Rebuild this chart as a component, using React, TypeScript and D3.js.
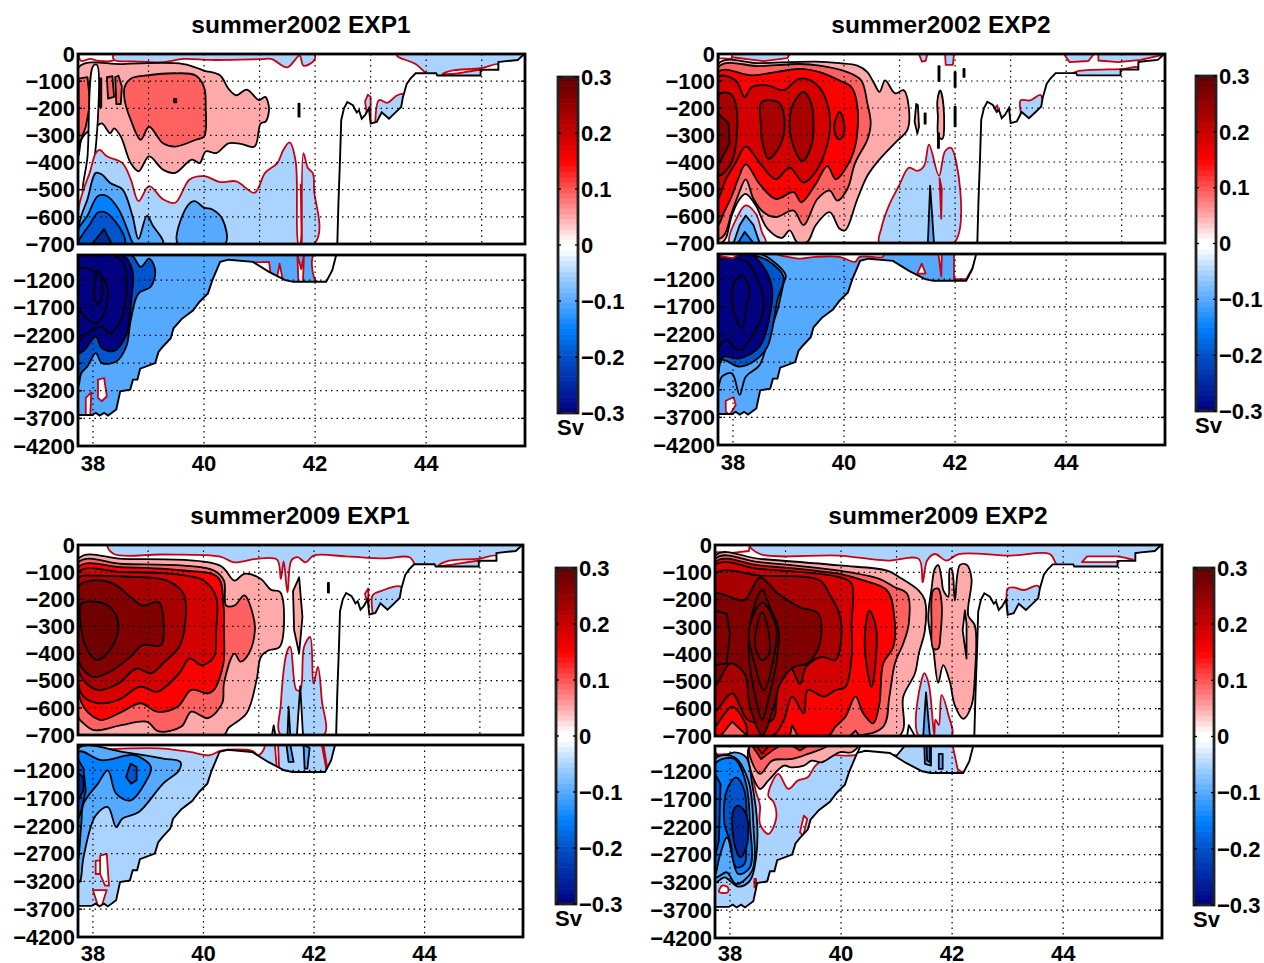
import React from "react";
import * as d3 from "d3";

type Pt = [number, number];
type Contour = [number, Pt[]];

const LAT_MIN = 37.73;
const LAT_MAX = 45.78;
const upperDepthTicks = [0, 100, 200, 300, 400, 500, 600, 700];
const lowerDepthTicks = [1200, 1700, 2200, 2700, 3200, 3700, 4200];
const latLabels = [38, 40, 42, 44];
const latGridUpper = [39, 40, 41, 42, 43, 44, 45];
const cbarTicks = [0.3, 0.2, 0.1, 0, -0.1, -0.2, -0.3];

// band floors (by magnitude) and their fills
const bandLevels = [-0.3, -0.25, -0.2, -0.15, -0.05, -0.01, 0, 0.001, 0.01, 0.05, 0.1, 0.15, 0.2, 0.25, 0.3];
const bandFills = ["#000080", "#002a99", "#0055cc", "#0080ff", "#55aaff", "#aad4ff", "#ffffff", "#ffffff", "#ffaaaa", "#ff6060", "#ff0000", "#d40000", "#a80000", "#800000", "#6e0000"];
const cbarStops = [-0.3, -0.2, -0.15, -0.1, -0.05, -0.006, 0.006, 0.05, 0.1, 0.15, 0.2, 0.3];
const cbarColors = ["#000080", "#0050c8", "#0080ff", "#55aaff", "#aad4ff", "#ffffff", "#ffffff", "#ffaaaa", "#ff5555", "#ff0000", "#c80000", "#600000"];

// bottom topography (lat, depth)
const topoUpper: Pt[] = [[42.4, 700], [42.42, 550], [42.45, 380], [42.47, 244], [42.52, 200], [42.58, 177], [42.68, 189], [42.75, 215], [42.79, 207], [42.84, 238], [42.9, 225], [42.97, 200], [43.0, 256], [43.11, 250], [43.2, 215], [43.33, 238], [43.45, 215], [43.55, 195], [43.58, 160], [43.65, 110], [43.72, 90], [43.81, 71], [44.18, 71], [44.2, 79], [44.98, 79], [44.98, 58], [45.3, 58], [45.3, 30], [45.4, 27], [45.65, 22], [45.74, 5], [45.76, 0]];
const topoLower: Pt[] = [[37.73, 3640], [37.98, 3640], [38.05, 3600], [38.12, 3650], [38.2, 3600], [38.27, 3650], [38.42, 3540], [38.49, 3210], [38.67, 3180], [38.72, 3000], [38.8, 3000], [38.85, 2800], [39.12, 2700], [39.18, 2500], [39.26, 2400], [39.4, 2250], [39.45, 2070], [39.6, 1900], [39.8, 1750], [39.92, 1590], [40.07, 1440], [40.15, 1200], [40.29, 870], [40.44, 830], [40.88, 870], [41.17, 1050], [41.46, 1200], [41.61, 1230], [42.2, 1230], [42.31, 1020], [42.38, 745]];

const upper2002E1: Contour[] = [
  [0, [[37.76, -5], [37.78, 25], [37.95, 18], [38.1, 25], [38.38, 22], [38.38, -5]]],
  [-0.01, [[38.38, 0], [38.38, 22], [38.75, 27], [39.26, 30], [39.63, 18], [40.14, 22], [41.02, 19], [41.21, 18], [41.5, 49], [41.72, 6], [41.79, 43], [41.98, 24], [41.98, 0]]],
  [-0.01, [[43.48, 0], [43.48, 8], [43.81, 37], [44, 70], [44.2, 85], [46, 85], [46, 0]]],
  [0, [[44.29, 75], [44.44, 62], [44.99, 52], [45.3, 38], [45.3, 58], [44.99, 58], [44.48, 73]]],
  [-0.01, [[42.9, 175], [42.95, 150], [43, 158], [43, 270], [42.93, 220]]],
  [-0.01, [[43.08, 265], [43.15, 170], [43.3, 180], [43.48, 152], [43.62, 150], [43.62, 300], [43.08, 300]]],
  [0.01, [[37.74, 49], [38.53, 37], [39.63, 37], [40, 61], [40.29, 79], [40.44, 128], [40.58, 152], [40.77, 131], [40.99, 170], [41.1, 158], [41.17, 201], [41.11, 249], [41.02, 256], [40.91, 341], [40.66, 331], [40.44, 329], [40.22, 365], [40.03, 359], [39.92, 402], [39.78, 389], [39.48, 438], [39.26, 426], [39.01, 377], [38.82, 432], [38.68, 402], [38.5, 304], [38.38, 274], [38.31, 292], [38.16, 256], [38.05, 268], [37.87, 292], [37.79, 316], [37.74, 377]]],
  [0.05, [[38.57, 122], [38.68, 91], [38.97, 79], [39.48, 71], [39.85, 79], [40, 122], [40.03, 195], [40, 304], [39.85, 316], [39.48, 341], [39.26, 329], [39.01, 268], [38.86, 316], [38.68, 243], [38.57, 170]]],
  [0.05, [[37.74, 91], [37.9, 85], [37.95, 181], [37.87, 268], [37.74, 340]]],
  [0.05, [[38.25, 85], [38.35, 82], [38.38, 158], [38.27, 164]]],
  [0.05, [[38.4, 85], [38.46, 80], [38.52, 120], [38.5, 185], [38.42, 185]]],
  [0.25, [[38.11, 90], [38.15, 90], [38.15, 195], [38.11, 195]]],
  [0.1, [[39.46, 165], [39.5, 165], [39.5, 178], [39.46, 178]]],
  [0.001, [[38, 45], [38.07, 40], [38.03, 380], [37.95, 450], [37.87, 510], [37.82, 510], [37.9, 380]]],
  [-0.01, [[37.74, 700], [37.74, 572], [37.83, 499], [37.94, 438], [38.05, 365], [38.12, 353], [38.25, 377], [38.53, 402], [38.68, 462], [38.82, 542], [39.01, 487], [39.26, 535], [39.48, 548], [39.74, 462], [40, 450], [40.29, 472], [40.58, 469], [40.91, 511], [41.1, 438], [41.32, 402], [41.43, 353], [41.54, 326], [41.65, 396], [41.7, 700], [41.73, 700], [41.74, 480], [41.76, 700], [41.79, 365], [41.87, 420], [41.96, 440], [41.98, 500], [41.98, 700]]],
  [-0.05, [[37.74, 700], [37.74, 640], [37.79, 596], [37.9, 535], [38.05, 438], [38.16, 444], [38.31, 475], [38.53, 499], [38.71, 596], [38.82, 681], [38.97, 596], [39.08, 633], [39.26, 700]]],
  [-0.05, [[39.53, 700], [39.7, 560], [39.83, 542], [40, 566], [40.14, 572], [40.33, 608], [40.38, 700]]],
  [-0.15, [[37.74, 700], [37.74, 645], [37.9, 596], [38.09, 523], [38.25, 523], [38.46, 572], [38.68, 681], [38.71, 700]]],
  [-0.2, [[37.74, 700], [37.74, 690], [37.95, 625], [38.09, 584], [38.23, 584], [38.53, 657], [38.57, 700]]],
  [-0.25, [[37.98, 700], [38.2, 645], [38.34, 700]]],
  [0.001, [[41.7, 183], [41.72, 183], [41.72, 231], [41.7, 231]]],
];
const lower2002E1Base = -0.05;
const lower2002E1: Contour[] = [
  [-0.2, [[37.74, 3120], [37.79, 2880], [37.9, 2760], [38.05, 2520], [38.16, 2700], [38.42, 2670], [38.6, 2400], [38.68, 1920], [38.82, 1440], [39.04, 1320], [39.12, 1020], [39.01, 810], [38.86, 960], [38.68, 740], [37.74, 740]]],
  [-0.3, [[37.74, 740], [38.53, 740], [38.71, 1020], [38.69, 1560], [38.6, 2190], [38.38, 2480], [38.16, 2430], [38.05, 2220], [37.85, 2460], [37.74, 2520]]],
  [-0.3, [[37.74, 760], [38.4, 760], [38.57, 960], [38.53, 1860], [38.3, 2160], [38.16, 2040], [37.85, 2190], [37.74, 2300]]],
  [-0.3, [[37.74, 1000], [38.05, 1050], [38.25, 1300], [38.2, 1800], [38.05, 1980], [37.74, 1700]]],
  [-0.3, [[38.02, 1380], [38.09, 1020], [38.16, 1230], [38.14, 1560], [38.09, 1640], [38.02, 1500]]],
  [0, [[38.09, 3000], [38.2, 2970], [38.25, 3300], [38.16, 3390], [38.09, 3330]]],
  [0, [[37.87, 3330], [37.97, 3230], [37.95, 3640], [37.87, 3640]]],
  [0, [[40.9, 880], [41.17, 870], [41.2, 1100], [41.0, 1000]]],
  [0, [[41.32, 1130], [41.36, 900], [41.41, 1160], [41.32, 1170]]],
  [0, [[41.68, 740], [41.7, 1240], [41.78, 1240], [41.8, 740], [41.75, 1000]]],
  [0, [[41.98, 740], [41.98, 1150], [42.05, 1240], [42.2, 1240], [42.31, 1020], [42.4, 740]]],
];

const upper2002E2: Contour[] = [
  [-0.01, [[37.95, 0], [37.98, 12], [38.55, 26], [38.98, 15], [39.02, 0]]],
  [-0.01, [[41.35, 0], [41.4, 28], [41.47, 25], [41.5, 0]]],
  [-0.01, [[41.82, 0], [41.83, 40], [41.96, 40], [41.98, 0]]],
  [-0.01, [[43.96, 0], [44.06, 30], [44.4, 26], [44.5, 0]]],
  [-0.01, [[44.58, 0], [44.58, 24], [44.94, 30], [45.34, 22], [45.8, 0]]],
  [-0.01, [[44.1, 75], [44.2, 64], [45.04, 55], [45.3, 50], [45.3, 90], [44.1, 90]]],
  [-0.01, [[43.18, 220], [43.18, 172], [43.35, 172], [43.54, 152], [43.58, 195], [43.58, 300], [43.18, 300]]],
  [-0.01, [[42.72, 200], [42.76, 190], [42.78, 240], [42.73, 240]]],
  [0, [[37.73, -5], [37.75, 15], [37.98, 18], [37.98, -5]]],
  [0.01, [[37.73, 37], [38.48, 34], [39.49, 28], [39.92, 34], [40.24, 43], [40.42, 67], [40.53, 104], [40.64, 140], [40.74, 98], [40.92, 146], [41.07, 134], [41.17, 207], [41.14, 281], [40.92, 329], [40.64, 390], [40.42, 451], [40.24, 537], [40.02, 653], [39.92, 647], [39.74, 586], [39.49, 634], [39.34, 695], [39.16, 698], [39.02, 653], [38.88, 681], [38.62, 647], [38.41, 561], [38.23, 518], [38.12, 537], [37.98, 598], [37.87, 683], [37.8, 698], [37.73, 698]]],
  [0.05, [[37.73, 49], [38.48, 45], [39.2, 37], [39.56, 43], [40.06, 67], [40.31, 98], [40.42, 183], [40.48, 256], [40.42, 317], [40.2, 403], [40.06, 500], [39.88, 543], [39.74, 506], [39.52, 537], [39.27, 634], [39.09, 580], [38.77, 604], [38.55, 586], [38.37, 537], [38.23, 464], [38.09, 525], [37.98, 586], [37.84, 671], [37.73, 683]]],
  [0.1, [[37.73, 67], [38.34, 79], [38.77, 67], [39.2, 55], [39.56, 67], [39.92, 98], [40.13, 122], [40.24, 195], [40.2, 342], [40.02, 427], [39.85, 464], [39.7, 415], [39.49, 482], [39.23, 549], [39.09, 512], [38.77, 537], [38.48, 482], [38.23, 409], [38.09, 464], [37.98, 525], [37.84, 586], [37.73, 634]]],
  [0.15, [[37.73, 85], [38.05, 98], [38.21, 159], [38.34, 122], [38.62, 116], [38.91, 134], [39.2, 91], [39.49, 110], [39.7, 183], [39.74, 293], [39.52, 427], [39.27, 476], [39.02, 421], [38.77, 464], [38.48, 403], [38.23, 342], [38.05, 403], [37.87, 464], [37.73, 537]]],
  [0.15, [[39.83, 256], [39.92, 214], [40, 256], [39.99, 299], [39.91, 317], [39.83, 287]]],
  [0.2, [[37.73, 152], [37.94, 146], [38.05, 183], [38.05, 342], [37.94, 415], [37.73, 451]]],
  [0.25, [[37.73, 220], [37.92, 256], [37.94, 329], [37.76, 403], [37.73, 403]]],
  [0.2, [[38.5, 183], [38.62, 171], [38.84, 183], [38.93, 268], [38.84, 342], [38.64, 388], [38.52, 317], [38.5, 256]]],
  [0.2, [[39.02, 256], [39.09, 183], [39.27, 140], [39.41, 183], [39.45, 256], [39.41, 342], [39.25, 397], [39.09, 342]]],
  [0.01, [[41.27, 250], [41.3, 185], [41.33, 190], [41.35, 270], [41.32, 295]]],
  [0.01, [[41.68, 175], [41.73, 135], [41.79, 190], [41.77, 315], [41.7, 305], [41.69, 230]]],
  [-0.01, [[40.64, 700], [40.67, 647], [40.81, 561], [40.99, 488], [41.17, 421], [41.32, 433], [41.44, 415], [41.53, 336], [41.71, 451], [41.82, 360], [41.93, 348], [41.98, 700]]],
  [-0.05, [[41.51, 700], [41.55, 488], [41.62, 700]]],
  [0, [[41.72, 460], [41.76, 500], [41.75, 610]]],
  [0.001, [[41.7, 45], [41.72, 45], [41.72, 100], [41.7, 100]]],
  [0.001, [[41.99, 67], [42.01, 67], [42.01, 122], [41.99, 122]]],
  [0.001, [[42.15, 55], [42.17, 55], [42.17, 85], [42.15, 85]]],
  [0.001, [[41.99, 195], [42.01, 195], [42.01, 268], [41.99, 268]]],
  [0.001, [[41.45, 220], [41.47, 220], [41.47, 258], [41.45, 258]]],
  [0.001, [[41.69, 293], [41.71, 293], [41.71, 348], [41.69, 348]]],
  [-0.01, [[37.94, 700], [38.09, 598], [38.23, 561], [38.41, 592], [38.52, 659], [38.59, 700]]],
  [-0.05, [[38.01, 700], [38.12, 634], [38.23, 598], [38.37, 634], [38.48, 700]]],
  [-0.15, [[38.09, 700], [38.21, 659], [38.37, 700]]],
];
const lower2002E2Base = -0.05;
const lower2002E2: Contour[] = [
  [-0.05, [[37.73, 3175], [37.8, 2964], [37.98, 2904], [38.12, 3295], [38.23, 2964], [38.48, 2753], [38.66, 2181], [38.8, 1760], [38.91, 1278], [38.95, 1128], [38.7, 857], [38.48, 740], [37.73, 740]]],
  [-0.2, [[37.73, 2934], [37.8, 2663], [38.12, 2783], [38.41, 2663], [38.62, 2422], [38.8, 1579], [38.91, 1158], [38.62, 857], [38.41, 779], [38.35, 740], [37.73, 740]]],
  [-0.3, [[37.73, 740], [38.3, 740], [38.55, 977], [38.7, 1338], [38.66, 1880], [38.48, 2422], [38.12, 2633], [37.85, 2600], [37.73, 2663]]],
  [-0.3, [[37.73, 900], [38.2, 860], [38.48, 1278], [38.55, 1760], [38.37, 2181], [38.12, 2482], [37.87, 2300], [37.73, 2422]]],
  [-0.3, [[38, 1338], [38.16, 1128], [38.3, 1400], [38.26, 1600], [38.16, 2091], [38.01, 1760]]],
  [0, [[37.87, 3400], [38.01, 3337], [38.05, 3475], [37.94, 3656], [37.87, 3596]]],
  [0, [[41.32, 1100], [41.4, 920], [41.47, 1100]]],
  [0, [[41.7, 740], [41.75, 1150], [41.76, 740]]],
  [0, [[41.98, 740], [41.98, 1200], [42.2, 1200], [42.31, 1000], [42.4, 740]]],
  [0, [[38.77, 740], [39.2, 827], [39.49, 797], [39.92, 797], [40.2, 887], [40.28, 797], [40.7, 797], [40.7, 740]]],
  [0, [[37.73, 740], [37.8, 790], [38, 820], [38.1, 740]]],
];

const upper2009E1: Contour[] = [
  [-0.01, [[38.27, 0], [38.38, 33], [39.27, 35], [40.3, 43], [40.56, 64], [40.96, 51], [41.33, 54], [41.4, 125], [41.45, 60], [41.52, 174], [41.59, 57], [41.7, 45], [41.85, 64], [41.99, 39], [42.58, 42], [43.25, 49], [43.73, 45], [43.84, 72], [44.2, 85], [46, 85], [46, 0]]],
  [0, [[44.25, 76], [44.4, 60], [44.98, 50], [45.3, 40], [45.3, 58], [44.98, 58], [44.5, 72]]],
  [-0.01, [[43.06, 260], [43.06, 185], [43.21, 170], [43.58, 155], [43.62, 300], [43.06, 300]]],
  [-0.01, [[42.92, 180], [42.98, 160], [42.99, 230]]],
  [0.01, [[37.73, 51], [38.53, 51], [40.3, 76], [40.56, 131], [40.74, 106], [41.04, 125], [41.22, 165], [41.39, 174], [41.38, 375], [41.18, 388], [41.04, 412], [40.96, 498], [40.78, 620], [40.45, 675], [40.37, 700], [37.73, 700]]],
  [0.01, [[41.62, 170], [41.73, 119], [41.79, 265], [41.73, 400], [41.64, 314]]],
  [0.05, [[37.73, 64], [38.53, 70], [39.64, 76], [40.19, 94], [40.37, 131], [40.41, 223], [40.56, 223], [40.74, 186], [40.89, 253], [40.93, 314], [40.82, 400], [40.67, 430], [40.56, 400], [40.37, 510], [40.34, 583], [40.08, 638], [39.78, 614], [39.6, 669], [39.19, 687], [38.97, 651], [38.53, 663], [38.16, 681], [38, 681], [37.83, 657], [37.73, 632]]],
  [0.1, [[37.73, 82], [38.53, 82], [39.64, 94], [40.26, 119], [40.36, 216], [40.37, 314], [40.36, 437], [40.19, 534], [40.08, 547], [39.78, 534], [39.53, 596], [39.16, 614], [38.86, 583], [38.53, 614], [38.16, 645], [38, 632], [37.83, 596], [37.73, 534]]],
  [0.15, [[37.73, 100], [38.53, 100], [39.41, 106], [40, 131], [40.23, 192], [40.23, 314], [40.19, 412], [39.97, 443], [39.75, 418], [39.56, 473], [39.16, 541], [38.86, 522], [38.46, 571], [38.09, 583], [37.83, 559], [37.73, 510]]],
  [0.2, [[37.73, 121], [38.01, 113], [38.53, 116], [39.34, 131], [39.64, 180], [39.67, 290], [39.56, 375], [39.3, 430], [39.05, 473], [38.79, 455], [38.46, 510], [38.09, 534], [37.83, 498], [37.73, 449]]],
  [0.25, [[37.73, 155], [37.98, 131], [38.38, 143], [38.68, 192], [38.9, 223], [39.19, 210], [39.28, 290], [39.23, 369], [38.9, 369], [38.68, 412], [38.31, 467], [38.01, 486], [37.79, 449], [37.73, 412]]],
  [0.3, [[37.79, 216], [38.09, 210], [38.31, 229], [38.46, 290], [38.35, 375], [38.07, 424], [37.87, 375], [37.78, 290]]],
  [-0.01, [[41.4, 700], [41.4, 585], [41.52, 388], [41.57, 375], [41.68, 534], [41.75, 534], [41.82, 375], [41.93, 339], [41.99, 510], [42.07, 449], [42.14, 571], [42.18, 700]]],
  [-0.05, [[41.52, 700], [41.54, 596], [41.57, 700]]],
  [0.001, [[41.69, 700], [41.75, 520], [41.8, 700]]],
  [0.05, [[42.25, 140], [42.27, 140], [42.27, 175], [42.25, 175]]],
  [0.001, [[41.24, 700], [41.27, 665], [41.3, 700]]],
];
const lower2009E1Base = -0.01;
const lower2009E1: Contour[] = [
  [0, [[37.73, 740], [37.73, 779], [37.98, 827], [38.53, 809], [39.27, 809], [39.75, 869], [40.11, 929], [40.3, 850], [40.45, 830], [40.88, 850], [41.0, 929], [41.1, 740]]],
  [-0.05, [[37.73, 3217], [37.77, 3187], [37.83, 2765], [38.05, 2013], [38.27, 1862], [38.42, 2223], [38.53, 2073], [38.83, 1952], [39.27, 1440], [39.56, 1200], [39.58, 1049], [39.27, 989], [38.53, 869], [37.73, 809]]],
  [-0.15, [[37.73, 869], [38.16, 1019], [38.75, 929], [39.05, 1140], [38.97, 1380], [38.68, 1742], [38.42, 1621], [38.27, 1200], [38.09, 1440], [37.83, 1802], [37.79, 2163], [37.73, 2886]]],
  [-0.2, [[38.6, 1320], [38.68, 1080], [38.79, 1140], [38.79, 1380], [38.69, 1440]]],
  [-0.2, [[37.73, 1000], [37.83, 1170], [37.87, 1561], [37.79, 1922], [37.73, 2100]]],
  [-0.25, [[37.73, 1260], [37.83, 1320], [37.83, 1561], [37.73, 1742]]],
  [0, [[38.13, 2735], [38.25, 2705], [38.29, 3277], [38.22, 3277], [38.13, 3066]]],
  [0, [[38.05, 2825], [38.13, 2825], [38.13, 3066], [38.05, 3066]]],
  [0, [[38, 3355], [38.25, 3355], [38.16, 3638], [38.09, 3638]]],
  [-0.05, [[41.5, 740], [41.54, 1049], [41.63, 1049], [41.57, 740]]],
  [0, [[41.29, 740], [41.33, 1200], [41.37, 1200], [41.35, 740]]],
  [-0.05, [[41.81, 740], [41.92, 800], [41.88, 1170], [41.83, 1170]]],
  [0, [[42.14, 740], [42.22, 1170], [42.24, 1170], [42.17, 740]]],
];

const upper2009E2: Contour[] = [
  [0, [[37.73, -5], [37.73, 25], [38, 30], [38.34, 22], [38.36, -5]]],
  [-0.01, [[38.36, 0], [38.54, 33], [39.97, 39], [40.83, 57], [41.4, 51], [41.47, 137], [41.55, 57], [41.69, 33], [41.9, 57], [42.12, 33], [43.05, 39], [43.76, 33], [43.9, 75], [44.2, 85], [46, 85], [46, 0]]],
  [0, [[44.34, 63], [44.43, 42], [45, 42], [45.26, 54], [45, 63]]],
  [-0.01, [[43, 260], [43, 160], [43.1, 155], [43.3, 165], [43.55, 150], [43.6, 300], [43, 300]]],
  [0.01, [[37.73, 39], [38.54, 51], [39.97, 75], [40.83, 94], [41.05, 118], [41.4, 167], [41.51, 203], [41.51, 313], [41.4, 398], [41.33, 471], [41.12, 556], [41.05, 700], [37.73, 700]]],
  [0.01, [[41.57, 270], [41.63, 160], [41.69, 86], [41.75, 74], [41.81, 123], [41.84, 165], [41.93, 190], [41.96, 86], [42, 92], [42.05, 203], [42.14, 74], [42.26, 72], [42.35, 123], [42.29, 258], [42.41, 295], [42.41, 478], [42.35, 588], [42.2, 637], [42.05, 588], [41.96, 502], [41.84, 440], [41.75, 505], [41.66, 380]]],
  [0.05, [[41.66, 166], [41.75, 160], [41.81, 209], [41.79, 331], [41.75, 380], [41.66, 380], [41.63, 282]]],
  [0.001, [[42.23, 240], [42.26, 288], [42.26, 416], [42.19, 313]]],
  [0.05, [[37.73, 51], [38.54, 63], [39.97, 94], [40.69, 124], [40.97, 155], [41.19, 179], [41.22, 288], [41.12, 361], [40.97, 434], [40.87, 556], [40.76, 666], [40.26, 700], [37.73, 700]]],
  [0.1, [[37.73, 63], [38.54, 75], [39.97, 106], [40.4, 130], [40.83, 167], [40.96, 264], [40.94, 374], [40.76, 434], [40.69, 583], [40.58, 654], [40.4, 617], [40.26, 556], [40.08, 629], [39.9, 666], [39.76, 700], [37.73, 700]]],
  [0.05, [[37.83, 700], [38.04, 647], [38.29, 696], [38.33, 700]]],
  [0.05, [[39.08, 700], [39.12, 660], [39.22, 700]]],
  [0.05, [[40.16, 700], [40.26, 680], [40.33, 700]]],
  [0.15, [[37.73, 75], [38.54, 88], [39.97, 118], [40.19, 142], [40.19, 288], [40.19, 410], [40.08, 520], [39.9, 532], [39.69, 556], [39.4, 532], [39.33, 617], [39.12, 556], [38.97, 641], [38.79, 696], [38.33, 700], [38.29, 660], [38.04, 593], [37.76, 660], [37.73, 666]]],
  [0.15, [[40.44, 301], [40.51, 240], [40.63, 301], [40.63, 410], [40.55, 520], [40.44, 410]]],
  [0.2, [[37.73, 106], [38.54, 112], [39.62, 130], [39.79, 179], [39.97, 252], [40.01, 325], [39.9, 422], [39.65, 410], [39.37, 447], [39.26, 510], [39.08, 447], [38.87, 520], [38.76, 642], [38.33, 642], [38.04, 544], [37.76, 605], [37.73, 605]]],
  [0.25, [[37.73, 179], [38.01, 191], [38.26, 203], [38.54, 120], [38.87, 179], [39.26, 228], [39.59, 252], [39.62, 361], [39.4, 434], [39.15, 447], [38.9, 510], [38.79, 593], [38.58, 696], [38.36, 593], [38.26, 471], [38.01, 434], [37.76, 510], [37.73, 510]]],
  [0.25, [[37.73, 240], [37.94, 252], [38, 325], [37.94, 434], [37.73, 440]]],
  [0.25, [[38.58, 165], [38.72, 230], [38.87, 301], [38.85, 410], [38.7, 560], [38.58, 640], [38.44, 540], [38.34, 400], [38.38, 270]]],
  [0.25, [[38.58, 210], [38.83, 301], [38.79, 410], [38.61, 532], [38.44, 434], [38.34, 313]]],
  [0.25, [[38.58, 246], [38.7, 325], [38.7, 400], [38.58, 422], [38.46, 380], [38.46, 325]]],
  [-0.01, [[41.4, 700], [41.5, 470], [41.58, 510], [41.68, 700], [41.7, 640], [41.76, 660], [41.81, 550], [41.93, 620], [41.99, 700]]],
  [-0.05, [[41.48, 700], [41.53, 540], [41.6, 700]]],
  [0.001, [[41.19, 700], [41.22, 660], [41.33, 700]]],
];
const lower2009E2Base = -0.01;
const lower2009E2: Contour[] = [
  [0, [[37.73, 740], [37.73, 828], [37.76, 888], [38.05, 888], [38.29, 948], [38.47, 1578], [38.54, 1818], [38.54, 2148], [38.69, 2328], [38.83, 2058], [38.79, 1758], [38.69, 1638], [38.87, 1248], [39.05, 1518], [39.22, 1368], [39.4, 1308], [39.54, 1098], [39.83, 918], [40.11, 918], [40.3, 888], [40.35, 740]]],
  [0.001, [[40.35, 740], [40.3, 858], [40.85, 888], [41.0, 918], [41.15, 740]]],
  [0.01, [[38.36, 740], [38.54, 1518], [38.69, 1368], [38.97, 1098], [39.1, 1128], [39.33, 1098], [39.47, 1008], [39.65, 1038], [39.97, 858], [40.19, 858], [40.3, 740]]],
  [0.05, [[38.36, 740], [38.54, 1248], [38.76, 1008], [39.12, 978], [39.4, 888], [39.76, 740]]],
  [0.1, [[38.4, 740], [38.56, 978], [38.76, 828], [38.9, 740]]],
  [0.1, [[39.12, 740], [39.26, 828], [39.4, 740]]],
  [0.15, [[38.47, 740], [38.58, 888], [38.7, 740]]],
  [-0.05, [[37.73, 888], [37.83, 948], [38.08, 858], [38.29, 948], [38.4, 1428], [38.49, 2148], [38.47, 2748], [38.36, 3168], [38.15, 3276], [37.9, 3108], [37.73, 3198]]],
  [-0.05, [[37.73, 978], [38.08, 948], [38.33, 1368], [38.42, 2148], [38.4, 2988], [38.11, 3228], [37.94, 3018], [37.73, 3108]]],
  [-0.15, [[37.73, 1068], [38.08, 978], [38.29, 1428], [38.36, 2148], [38.36, 2928], [38.15, 3048], [37.97, 2418], [37.94, 2388], [37.81, 2748], [37.73, 3078]]],
  [-0.2, [[37.94, 1548], [38.11, 1308], [38.26, 1548], [38.29, 2448], [38.26, 2868], [38.11, 2928], [38, 2448], [37.9, 2148]]],
  [-0.2, [[37.73, 1248], [37.83, 1428], [37.8, 2448], [37.73, 2748]]],
  [-0.25, [[38.06, 1908], [38.15, 1818], [38.29, 1968], [38.31, 2508], [38.19, 2748], [38.08, 2508]]],
  [0, [[37.8, 3360], [37.86, 3258], [37.96, 3288], [37.96, 3378], [37.86, 3390], [37.81, 3378]]],
  [0, [[39.26, 2300], [39.33, 2000], [39.39, 2058], [39.32, 2358]]],
  [0, [[38.44, 3138], [38.47, 3138], [38.47, 3288], [38.44, 3288]]],
  [-0.05, [[41.5, 740], [41.51, 1068], [41.62, 1098], [41.62, 740]]],
  [-0.15, [[41.54, 740], [41.55, 1000], [41.6, 1038], [41.6, 740]]],
  [-0.05, [[41.76, 888], [41.83, 888], [41.83, 1158], [41.76, 1158]]],
  [0, [[42.01, 740], [42.1, 1158], [42.23, 1258], [42.37, 1038], [42.42, 740]]],
];

const panelTitles = ["summer2002 EXP1", "summer2002 EXP2", "summer2009 EXP1", "summer2009 EXP2"];
const panelUpper = [upper2002E1, upper2002E2, upper2009E1, upper2009E2];
const panelLower = [lower2002E1, lower2002E2, lower2009E1, lower2009E2];
const panelLowerBase = [lower2002E1Base, lower2002E2Base, lower2009E1Base, lower2009E2Base];

// layout
const frames = [
  { l: 78, r: 525, ut: 54, ub: 244, lt: 255, lb: 446, cl: 558, ct: 77, cb: 413, tx: 301, ty: 33 },
  { l: 718, r: 1165, ut: 54, ub: 243, lt: 254, lb: 445, cl: 1196, ct: 76, cb: 411, tx: 941, ty: 33 },
  { l: 78, r: 523, ut: 545, ub: 735, lt: 745, lb: 937, cl: 556, ct: 568, cb: 904, tx: 300, ty: 524 },
  { l: 715, r: 1162, ut: 545, ub: 736, lt: 746, lb: 938, cl: 1194, ct: 568, cb: 905, tx: 938, ty: 524 },
];

const FONT = "'Liberation Sans', Arial, sans-serif";
const fmt = (v: number) => (v < 0 ? "\u2212" + Math.abs(v) : String(v));
const fillOf = d3.scaleOrdinal<number, string>().domain(bandLevels).range(bandFills);
const strokeOf = (lv: number) => (lv === 0 || lv === -0.01 ? "#c8000f" : "#000");

function Section({ id, l, r, t, b, depth, contours, base, topo, ocean, yTicks, xGrid }: any) {
  const x = d3.scaleLinear().domain([LAT_MIN, LAT_MAX]).range([l, r]);
  const y = d3.scaleLinear().domain(depth).range([t, b]);
  const line = d3.line<Pt>().x((d) => x(d[0])).y((d) => y(d[1]));
  const smooth = d3.line<Pt>().x((d) => x(d[0])).y((d) => y(d[1])).curve(d3.curveCatmullRomClosed.alpha(0.5));
  const shape = (pts: Pt[]) => (pts.length >= 6 ? smooth(pts) : line(pts) + "Z");
  return (
    <g>
      <defs>
        <clipPath id={id + "c"}>
          <path d={line(ocean) + "Z"} />
        </clipPath>
        <clipPath id={id + "f"}>
          <rect x={l} y={t} width={r - l} height={b - t} />
        </clipPath>
      </defs>
      <g clipPath={`url(#${id}f)`}>
        <g clipPath={`url(#${id}c)`}>
          {base != null && <path d={line(ocean) + "Z"} fill={fillOf(base)} stroke="none" />}
          {contours.map(([lv, pts]: Contour, i: number) => (
            <path key={i} d={shape(pts) ?? ""} fill={fillOf(lv)} stroke={strokeOf(lv)} strokeWidth={1.8} strokeLinejoin="round" />
          ))}
        </g>
        <path d={line(topo) ?? ""} fill="none" stroke="#000" strokeWidth={1.9} />
      </g>
      {yTicks.map((v: number) => (
        <line key={v} x1={l} x2={r} y1={y(v)} y2={y(v)} stroke="#000" strokeWidth={1.2} strokeDasharray="1.5 4" />
      ))}
      {xGrid.map((v: number) => (
        <line key={v} x1={x(v)} x2={x(v)} y1={t} y2={b} stroke="#000" strokeWidth={1.2} strokeDasharray="1.5 4" />
      ))}
      {yTicks.map((v: number) => (
        <g key={v}>
          <line x1={l} x2={l + 4} y1={y(v)} y2={y(v)} stroke="#000" strokeWidth={1.5} />
          <line x1={r - 4} x2={r} y1={y(v)} y2={y(v)} stroke="#000" strokeWidth={1.5} />
          <text x={l - 3} y={y(v)} dy="0.35em" textAnchor="end" fontFamily={FONT} fontWeight="bold" fontSize={22} fill="#000">{v === 0 ? "0" : fmt(-v)}</text>
        </g>
      ))}
      <rect x={l} y={t} width={r - l} height={b - t} fill="none" stroke="#000" strokeWidth={2.8} />
    </g>
  );
}

function Colorbar({ f }: any) {
  const w = 20;
  const y = d3.scaleLinear().domain([-0.3, 0.3]).range([f.cb, f.ct]);
  const color = d3.scaleLinear<string>().domain(cbarStops).range(cbarColors);
  const steps = d3.range(64);
  const dv = 0.6 / 64;
  return (
    <g>
      {steps.map((i) => {
        const v0 = -0.3 + i * dv;
        return <rect key={i} x={f.cl} y={y(v0 + dv)} width={w} height={y(v0) - y(v0 + dv) + 0.6} fill={color(v0 + dv / 2)} />;
      })}
      <rect x={f.cl} y={f.ct} width={w} height={f.cb - f.ct} fill="none" stroke="#222" strokeWidth={2.8} />
      {cbarTicks.map((v) => (
        <g key={v}>
          <line x1={f.cl} x2={f.cl + 3} y1={y(v)} y2={y(v)} stroke="#000" strokeWidth={1.3} />
          <line x1={f.cl + w - 3} x2={f.cl + w} y1={y(v)} y2={y(v)} stroke="#000" strokeWidth={1.3} />
          <text x={f.cl + w + 3} y={y(v)} dy="0.35em" fontFamily={FONT} fontWeight="bold" fontSize={22} fill="#000">{fmt(v)}</text>
        </g>
      ))}
      <text x={f.cl - 1} y={f.cb + 22} fontFamily={FONT} fontWeight="bold" fontSize={22} fill="#000">Sv</text>
    </g>
  );
}

export default function App() {
  const oceanUpper: Pt[] = [[LAT_MIN, 0], ...[...topoUpper].reverse(), [42.4, 700], [LAT_MIN, 700]];
  const oceanLower: Pt[] = [[LAT_MIN, 745], [42.38, 745], ...[...topoLower].reverse()];
  return (
    <svg width={1264} height={963} style={{ position: "absolute", left: 0, top: 0 }} xmlns="http://www.w3.org/2000/svg">
      <rect width={1264} height={963} fill="#fff" />
      {frames.map((f, i) => {
        const x = d3.scaleLinear().domain([LAT_MIN, LAT_MAX]).range([f.l, f.r]);
        return (
          <g key={i}>
            <text x={f.tx} y={f.ty} textAnchor="middle" fontFamily={FONT} fontWeight="bold" fontSize={24.5} fill="#000">{panelTitles[i]}</text>
            <Section id={`u${i}`} l={f.l} r={f.r} t={f.ut} b={f.ub} depth={[0, 700]} contours={panelUpper[i]} base={null} topo={topoUpper} ocean={oceanUpper} yTicks={upperDepthTicks} xGrid={latGridUpper} />
            <Section id={`d${i}`} l={f.l} r={f.r} t={f.lt} b={f.lb} depth={[745, 4200]} contours={panelLower[i]} base={panelLowerBase[i]} topo={topoLower} ocean={oceanLower} yTicks={lowerDepthTicks} xGrid={latLabels} />
            {latLabels.map((v) => (
              <text key={v} x={x(v)} y={Math.min(f.lb + 25, 961)} textAnchor="middle" fontFamily={FONT} fontWeight="bold" fontSize={22} fill="#000">{v}</text>
            ))}
            <Colorbar f={f} />
          </g>
        );
      })}
    </svg>
  );
}
